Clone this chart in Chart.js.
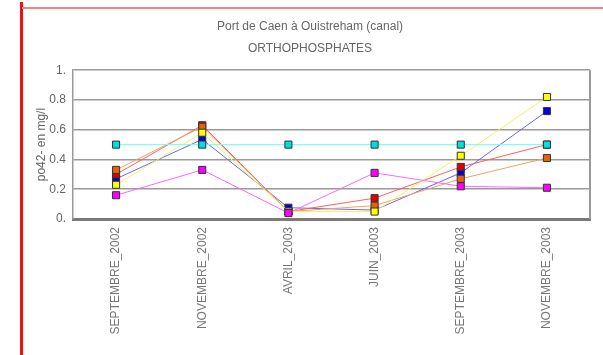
<!DOCTYPE html>
<html>
<head>
<meta charset="utf-8">
<script src="https://cdn.jsdelivr.net/npm/chart.js@4.4.1/dist/chart.umd.min.js"></script>
<style>
  html, body { margin: 0; padding: 0; background: #fff; }
  #wrap { position: relative; width: 603px; height: 355px; overflow: hidden; }
  #frameV { position: absolute; left: 20px; top: 2px; width: 3px; height: 353px; background: #ee1111; }
  #frameH { position: absolute; left: 22px; top: 7px; width: 581px; height: 2px; background: #ff8080; }
</style>
</head>
<body>
<div id="wrap">
  <canvas id="chart" width="603" height="355"></canvas>
  <div id="frameV"></div>
  <div id="frameH"></div>
</div>
<script>
// Port de Caen à Ouistreham - orthophosphates, 6 campagnes
const titleLines = ['Port de Caen à Ouistreham (canal)', 'ORTHOPHOSPHATES'];
const yTitle = 'po42- en mg/l';
const campagnes = ['SEPTEMBRE_2002', 'NOVEMBRE_2002', 'AVRIL_2003', 'JUIN_2003', 'SEPTEMBRE_2003', 'NOVEMBRE_2003'];
const yTicks = { 0: '0.', 0.2: '0.2', 0.4: '0.4', 0.6: '0.6', 0.8: '0.8', 1: '1.' };

const cyanVals    = [0.50, 0.50, 0.50, 0.50, 0.50, 0.50];
const magentaVals = [0.16, 0.33, 0.04, 0.31, 0.22, 0.21];
const yellowVals  = [0.23, 0.58, 0.05, 0.05, 0.425, 0.82];
const orangeVals  = [0.33, 0.62, 0.05, 0.09, 0.27, 0.41];
const redVals     = [0.30, 0.63, 0.05, 0.14, 0.35, 0.50];
const blueVals    = [0.27, 0.535, 0.076, 0.06, 0.31, 0.725];

function serie(data, line, fill) {
    return {
        data: data,
        borderColor: line,
        borderWidth: 1,
        backgroundColor: fill,
        pointStyle: 'rect',
        pointRadius: 5,
        pointBorderColor: '#333',
        pointBorderWidth: 1,
        pointBackgroundColor: fill,
        tension: 0
    };
}

// right edge of the plot frame
const frameRight = {
    id: 'frameRight',
    afterDraw(chart) {
        const a = chart.chartArea, c = chart.ctx;
        c.save();
        c.strokeStyle = '#999';
        c.lineWidth = 2;
        c.beginPath();
        c.moveTo(a.right, a.top);
        c.lineTo(a.right, a.bottom);
        c.stroke();
        c.restore();
    }
};

Chart.defaults.font.family = '"Liberation Sans", Arial, sans-serif';
Chart.defaults.font.size = 12;
Chart.defaults.color = '#666';

new Chart(document.getElementById('chart'), {
    type: 'line',
    data: {
        labels: campagnes,
        datasets: [
            serie(cyanVals, '#70ffff', '#00dede'),
            serie(magentaVals, '#ff66ff', '#ff00ff'),
            serie(yellowVals, '#f4f060', '#ffff00'),
            serie(orangeVals, '#f5a060', '#e8600c'),
            serie(redVals, '#ff6060', '#e00000'),
            serie(blueVals, '#6464ff', '#0000e0')
        ]
    },
    options: {
        responsive: false,
        animation: false,
        layout: { padding: { top: 16, left: 30, right: 13, bottom: 0 } },
        plugins: {
            legend: { display: false },
            tooltip: { enabled: false },
            title: {
                display: true,
                text: titleLines,
                color: '#666',
                font: { size: 12, weight: 'normal', lineHeight: 1.8 },
                padding: { top: 0, bottom: 11 }
            }
        },
        scales: {
            x: {
                offset: true,
                grid: { display: false, drawTicks: false },
                border: { display: true, color: '#7a7a7a', width: 3 },
                ticks: { minRotation: 90, maxRotation: 90, autoSkip: false, padding: 8, color: '#777' },
                afterFit: s => { s.height = 136; }
            },
            y: {
                min: 0,
                max: 1,
                grid: { color: '#9a9a9a', lineWidth: 1.5, drawTicks: false },
                border: { display: true, color: '#9a9a9a', width: 1.5 },
                ticks: {
                    stepSize: 0.2,
                    padding: 7,
                    color: '#666',
                    callback: v => yTicks[Math.round(v * 10) / 10]
                },
                title: { display: true, text: yTitle, color: '#666', padding: { top: 4, bottom: 0 } },
                afterFit: s => { s.width = 43; }
            }
        }
    },
    plugins: [frameRight]
});
</script>
</body>
</html>
